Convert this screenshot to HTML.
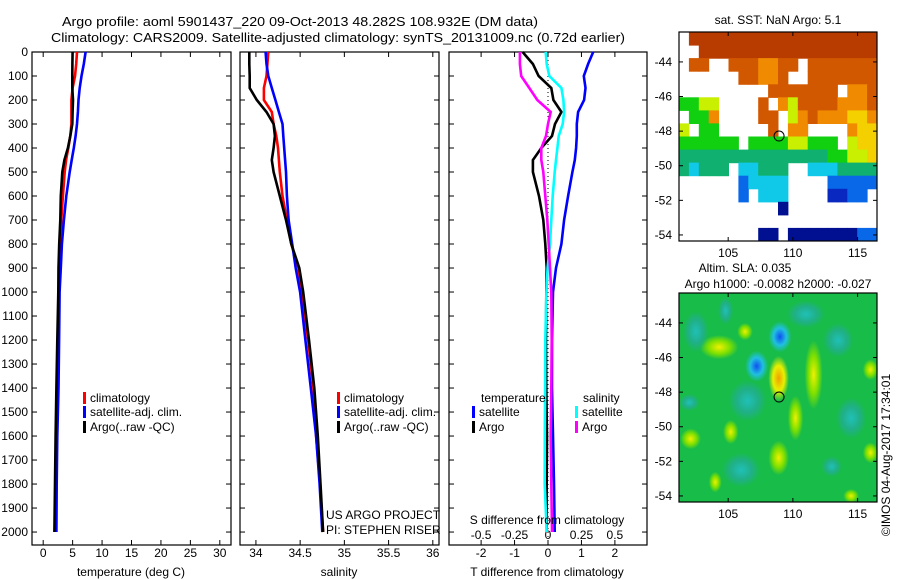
<!DOCTYPE html>
<html><head><meta charset="utf-8"><style>
html,body{margin:0;padding:0;background:#fff;}
svg{display:block;font-family:"Liberation Sans",Arial,sans-serif;}
text{font-size:12px;fill:#000;}
</style></head><body>
<svg id="chart" width="900" height="580" viewBox="0 0 900 580" xmlns="http://www.w3.org/2000/svg">
<text x="62" y="26" textLength="476" lengthAdjust="spacingAndGlyphs" style="font-size:13px">Argo profile: aoml 5901437_220 09-Oct-2013 48.282S 108.932E (DM data)</text>
<text x="51" y="42" textLength="574" lengthAdjust="spacingAndGlyphs" style="font-size:13px">Climatology: CARS2009. Satellite-adjusted climatology: synTS_20131009.nc (0.72d earlier)</text>
<g id="g"></g>
</svg>
<script>
// ---- data ----
const depths = [0,50,100,150,200,250,300,350,400,450,500,600,700,800,900,1000,1200,1400,1600,1800,2000];
const tempClim = [5.75,5.6,5.4,5.0,4.8,4.8,4.8,4.6,4.27,3.9,3.65,3.35,3.07,2.96,2.84,2.7,2.55,2.4,2.25,2.1,1.96];
const tempSat  = [7.2,6.9,6.5,6.2,6.0,5.9,5.75,5.5,5.2,4.85,4.5,3.93,3.52,3.18,3.0,2.79,2.7,2.6,2.4,2.3,2.24];
const tempArgo = [5.0,4.97,4.95,4.95,5.06,5.0,4.95,4.6,4.2,3.6,3.25,3.0,2.9,2.72,2.6,2.56,2.4,2.24,2.1,2.0,1.9];
const salClim = [34.14,34.13,34.12,34.09,34.09,34.18,34.20,34.23,34.25,34.26,34.27,34.30,34.35,34.40,34.48,34.52,34.59,34.65,34.68,34.725,34.76];
const salSat  = [34.11,34.12,34.14,34.18,34.22,34.26,34.30,34.31,34.32,34.33,34.34,34.35,34.37,34.41,34.45,34.50,34.56,34.62,34.68,34.72,34.75];
const salArgo = [33.925,33.925,33.93,33.93,34.01,34.12,34.20,34.215,34.20,34.18,34.2,34.27,34.34,34.40,34.49,34.535,34.6,34.66,34.70,34.73,34.76];
const tDiffSat  = [1.35,1.2,1.07,1.12,1.08,0.9,0.86,0.86,0.84,0.8,0.73,0.6,0.48,0.4,0.24,0.15,0.12,0.12,0.15,0.18,0.2];
const tDiffArgo = [-0.76,-0.45,-0.28,0.1,0.16,0.4,0.21,0.12,-0.2,-0.45,-0.45,-0.27,-0.14,-0.08,-0.04,-0.05,-0.06,-0.05,-0.03,-0.04,-0.04];
const sDiffSat  = [-0.017,-0.01,0.01,0.1,0.115,0.12,0.11,0.08,0.07,0.06,0.05,0.035,0.025,0.015,-0.003,-0.012,-0.02,-0.022,-0.024,-0.025,-0.01];
const sDiffArgo = [-0.21,-0.21,-0.2,-0.14,-0.08,0.02,0.0,-0.015,-0.05,-0.05,-0.035,-0.02,-0.005,0.005,0.015,0.025,0.028,0.025,0.02,0.025,0.03];
const depthTicks = [0,100,200,300,400,500,600,700,800,900,1000,1100,1200,1300,1400,1500,1600,1700,1800,1900,2000];
const tempTicks = [0,5,10,15,20,25,30];
const salTicks = [34,34.5,35,35.5,36];
const tDiffTicks = [-2,-1,0,1,2];
const sDiffTicks = [-0.5,-0.25,0,0.25,0.5];
const lonTicks = [105,110,115];
const latTicks = [-44,-46,-48,-50,-52,-54];
const argoLon = 108.932, argoLat = -48.282;
const sstGrid = [
".RRRRRRRRRRRRRRRRRRR",
"..RRRRRRRRRRRRRRRRRR",
".OO..OOOooOO.OOOOOOO",
"......OOooO..OOOOOOO",
".........OOOOOOO.ooO",
"GGyy....O.oyOOOOoooO",
".GGo....OO.yoOoooYYo",
"y.GG.....O.oo....oYY",
"GGGGGG.GGGGyyGGG.yYY",
"gggggggggggggggGGyyY",
"gcggg.ccggg..cccgggg",
"......bcccc....bbbbb",
"......b.ccc....BBbb.",
"..........N.........",
"....................",
"........NN.NNNNNNNbb"];
const slaBlobs = [ // lon, lat, rx(deg), ry(deg), type
[109.0,-44.8,0.9,0.9,'b'],[107.2,-46.5,0.9,0.9,'b'],[108.9,-47.2,0.8,1.3,'o'],
[104.3,-45.4,1.5,0.7,'y'],[111.6,-47.0,0.7,2.0,'y'],[102.1,-50.7,0.8,0.6,'y'],
[108.9,-51.8,0.8,1.0,'y'],[105.2,-50.3,0.6,0.7,'y'],[104.0,-53.2,0.5,0.6,'y'],
[114.5,-54.0,0.6,0.4,'y'],[116.0,-46.7,0.6,0.6,'y'],[104.8,-43.3,0.6,0.8,'c'],
[110.2,-49.5,0.6,1.3,'y'],[102.0,-48.6,0.8,0.5,'c'],[113.0,-52.3,0.8,0.6,'c'],
[106.5,-48.5,1.5,1.2,'c'],[113.5,-45.0,1.2,1.0,'c'],[114.5,-49.5,1.2,1.2,'c'],
[106.0,-52.5,1.5,1.0,'c'],[111.0,-43.5,1.5,0.8,'c'],[102.5,-44.5,1.0,1.2,'c'],
[106.3,-44.5,0.6,0.5,'y'],[116.0,-51.5,0.6,0.6,'y']];

// ---- helpers ----
const NS='http://www.w3.org/2000/svg';
const G=document.getElementById('g');
function mk(tag,attrs,parent){const e=document.createElementNS(NS,tag);for(const k in attrs)e.setAttribute(k,attrs[k]);(parent||G).appendChild(e);return e;}
function txt(x,y,s,anchor,parent,size){const t=mk('text',{x:x,y:y,'text-anchor':anchor||'start'},parent);if(size)t.style.fontSize=size+'px';t.textContent=s;return t;}
const pTop=52,pBot=545;
function yD(d){return pTop+(d/2054)*(pBot-pTop);}
function lin(d0,d1,r0,r1){return v=>r0+(v-d0)/(d1-d0)*(r1-r0);}
const panels=[
 {x0:32,x1:231,dom:[-1.9,31.9],name:'temperature-panel'},
 {x0:240,x1:439,dom:[33.82,36.07],name:'salinity-panel'},
 {x0:449,x1:647,dom:[-2.96,2.96],name:'difference-panel'}];
panels.forEach(p=>{p.sx=lin(p.dom[0],p.dom[1],p.x0,p.x1);});
const sS=lin(-0.74,0.74,449,647);

function panelFrame(p,ticks,labels,ly){
  const g=mk('g',{});
  
  
  mk('rect',{x:p.x0,y:pTop,width:p.x1-p.x0,height:pBot-pTop,fill:'none',stroke:'#000','stroke-width':1.2},g);
  depthTicks.forEach(d=>{const y=yD(d);
    mk('line',{x1:p.x0,x2:p.x0+5,y1:y,y2:y,stroke:'#000'},g);
    mk('line',{x1:p.x1-5,x2:p.x1,y1:y,y2:y,stroke:'#000'},g);});
  ticks.forEach((v,i)=>{const x=p.sx(v);
    mk('line',{x1:x,x2:x,y1:pBot,y2:pBot-5,stroke:'#000'},g);
    mk('line',{x1:x,x2:x,y1:pTop,y2:pTop+5,stroke:'#000'},g);
    if(labels){const t=txt(x,ly,labels[i],'middle',g);
      
      }});
  return g;
}
function series(p,xs,scale,color,name){
  const pts=xs.map((v,i)=>scale(v).toFixed(1)+','+yD(depths[i]).toFixed(1)).join(' ');
  const l=mk('polyline',{points:pts,fill:'none',stroke:color,'stroke-width':2.6,'stroke-linejoin':'miter'});
  
  
}
// panel 1
const g1=panelFrame(panels[0],tempTicks,tempTicks.map(String),557);
depthTicks.forEach(d=>{const t=txt(28,yD(d)+4,String(d),'end',g1);
  
  });
series(panels[0],tempClim,panels[0].sx,'#f00','temp-clim-line');
series(panels[0],tempSat,panels[0].sx,'#00f','temp-sat-line');
series(panels[0],tempArgo,panels[0].sx,'#000','temp-argo-line');
// panel 2
panelFrame(panels[1],salTicks,salTicks.map(String),557);
series(panels[1],salClim,panels[1].sx,'#f00','sal-clim-line');
series(panels[1],salSat,panels[1].sx,'#00f','sal-sat-line');
series(panels[1],salArgo,panels[1].sx,'#000','sal-argo-line');
// panel 3
const g3=panelFrame(panels[2],tDiffTicks,tDiffTicks.map(String),557);
sDiffTicks.forEach(v=>{const t=txt(sS(v),539,String(v),'middle',g3);
  
  });
const zl=mk('line',{x1:panels[2].sx(0),x2:panels[2].sx(0),y1:pTop,y2:pBot,stroke:'#000','stroke-dasharray':'1,3'});


series(panels[2],tDiffSat,panels[2].sx,'#00f','tdiff-sat-line');
series(panels[2],tDiffArgo,panels[2].sx,'#000','tdiff-argo-line');
series(panels[2],sDiffSat,sS,'#0ff','sdiff-sat-line');
series(panels[2],sDiffArgo,sS,'#f0f','sdiff-argo-line');

// legends
function legend(x,y,color,label,name){const g=mk('g',{});
  
  
  mk('rect',{x:x,y:y-10,width:3,height:12,fill:color},g);
  txt(x+7,y,label,'start',g);}
legend(83,402,'#f00','climatology','legend-climatology');
legend(83,416,'#00f','satellite-adj. clim.','legend-satellite-adj');
legend(83,431,'#000','Argo(..raw -QC)','legend-argo');
legend(337,402,'#f00','climatology','legend-climatology-2');
legend(337,416,'#00f','satellite-adj. clim.','legend-satellite-adj-2');
legend(337,431,'#000','Argo(..raw -QC)','legend-argo-2');
txt(481,402,'temperature','start');
txt(583,402,'salinity','start');
legend(472,416,'#00f','satellite','legend-t-satellite');
legend(472,431,'#000','Argo','legend-t-argo');
legend(575,416,'#0ff','satellite','legend-s-satellite');
legend(575,431,'#f0f','Argo','legend-s-argo');
txt(326,519,'US ARGO PROJECT');
txt(326,534,'PI: STEPHEN RISER');
txt(547,524,'S difference from climatology','middle');
txt(131,576,'temperature (deg C)','middle');
txt(339,576,'salinity','middle');
txt(547,576,'T difference from climatology','middle');

// maps
const mx0=679,mx1=877;
const lonS=lin(101.2,116.5,mx0,mx1);
function mapFrame(y0,y1,name){
  const latS=lin(-42.27,-54.35,y0,y1);
  const g=mk('g',{});
  
  
  return {g,latS,y0,y1};
}
function mapAxes(m,lonLabY){
  const g=m.g;
  mk('rect',{x:mx0,y:m.y0,width:mx1-mx0,height:m.y1-m.y0,fill:'none',stroke:'#000','stroke-width':1.2},g);
  lonTicks.forEach(v=>{const x=lonS(v);
    mk('line',{x1:x,x2:x,y1:m.y0,y2:m.y0+4,stroke:'#000'},g);
    mk('line',{x1:x,x2:x,y1:m.y1,y2:m.y1-4,stroke:'#000'},g);
    txt(x,lonLabY,String(v),'middle',g);});
  latTicks.forEach(v=>{const y=m.latS(v);
    mk('line',{x1:mx0,x2:mx0+4,y1:y,y2:y,stroke:'#000'},g);
    mk('line',{x1:mx1-4,x2:mx1,y1:y,y2:y,stroke:'#000'},g);
    txt(672,y+4,String(v),'end',g);});
  const c=mk('circle',{cx:lonS(argoLon),cy:m.latS(argoLat),r:5,fill:'none',stroke:'#000','stroke-width':1},g);
  
  
}
// SST map
const sstColors={R:'#b83c00',O:'#d25800',o:'#f08a00',Y:'#f4d000',y:'#c8f000',G:'#10d010',g:'#10b070',c:'#10c8e8',b:'#0868e8',B:'#0828c0',N:'#001090'};
const m1=mapFrame(32,241,'sst-map');
const cw=(mx1-mx0)/20, ch=(241-32)/16;
sstGrid.forEach((row,r)=>{[...row].forEach((k,c)=>{if(sstColors[k]){
  mk('rect',{x:(mx0+c*cw).toFixed(1),y:(32+r*ch).toFixed(1),width:(cw+0.5).toFixed(1),height:(ch+0.5).toFixed(1),fill:sstColors[k]},m1.g);}});});
mapAxes(m1,257);
txt(778,24,'sat. SST: NaN Argo: 5.1','middle');
// SLA map
const m2=mapFrame(293,502,'sla-map');
const defs=mk('defs',{});
const grads={b:['#1050f0','#20c0e0'],o:['#f0a000','#e8f000'],y:['#f0f000','#80e000'],c:['#20c0b8','#20b088']};
for(const k in grads){const rg=mk('radialGradient',{id:'rg'+k},defs);
  mk('stop',{offset:'0%','stop-color':grads[k][0]},rg);
  mk('stop',{offset:'55%','stop-color':grads[k][1]},rg);
  mk('stop',{offset:'100%','stop-color':grads[k][1],'stop-opacity':0},rg);}
mk('rect',{x:mx0,y:293,width:mx1-mx0,height:209,fill:'#18bc48'},m2.g);
slaBlobs.forEach(b=>{const e=mk('ellipse',{cx:lonS(b[0]),cy:m2.latS(b[1]),rx:b[2]*12.9,ry:b[3]*17.3,fill:'url(#rg'+b[4]+')'},m2.g);
  
  });
mapAxes(m2,518);
txt(745,272,'Altim. SLA: 0.035','middle');
txt(778,288,'Argo h1000: -0.0082 h2000: -0.027','middle');
const st=txt(0,0,'©IMOS 04-Aug-2017 17:34:01','middle');
st.setAttribute('transform','translate(890,455) rotate(-90)');


</script>
</body></html>
